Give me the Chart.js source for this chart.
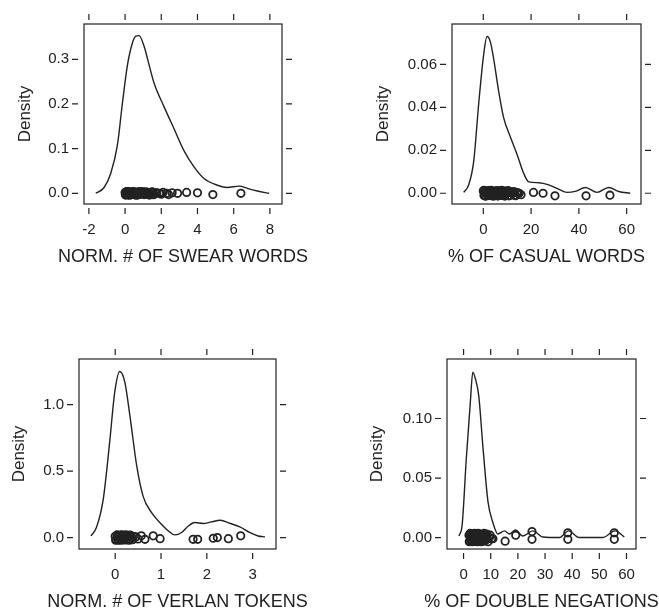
<!DOCTYPE html>
<html>
<head>
<meta charset="utf-8">
<title>Density plots</title>
<script src="https://cdn.jsdelivr.net/npm/chart.js@4.4.1/dist/chart.umd.min.js"></script>
<style>
body { margin: 0; background: #fff; }
#wrap { position: relative; width: 659px; height: 611px; overflow: hidden; background: #fff; }
canvas { position: absolute; }
</style>
</head>
<body>
<div id="wrap">
  <canvas id="swear" width="330" height="305" style="left:0;top:0"></canvas>
  <canvas id="casual" width="329" height="305" style="left:330px;top:0"></canvas>
  <canvas id="verlan" width="330" height="306" style="left:0;top:305px"></canvas>
  <canvas id="negation" width="329" height="306" style="left:330px;top:305px"></canvas>
</div>
<script>
// --- swear words ---
var swearX = [-1.62, -1.16, -0.79, -0.42, -0.15, 0.13, 0.40, 0.59, 0.77, 1.05, 1.33, 1.60, 2.15, 2.71, 3.26, 3.81, 4.36, 5.10, 5.65, 6.30, 6.76, 7.31, 7.96];
var swearDensity = [0.0, 0.013, 0.045, 0.109, 0.201, 0.287, 0.336, 0.352, 0.353, 0.329, 0.287, 0.247, 0.194, 0.144, 0.095, 0.059, 0.033, 0.018, 0.013, 0.016, 0.011, 0.005, 0.0];
var swearRug = [0.0, 0.02, 0.05, 0.08, 0.1, 0.12, 0.15, 0.18, 0.2, 0.22, 0.25, 0.3, 0.33, 0.36, 0.4, 0.42, 0.45, 0.5, 0.55, 0.58, 0.6, 0.65, 0.7, 0.72, 0.76, 0.8, 0.85, 0.9, 0.95, 1.0, 1.05, 1.1, 1.2, 1.25, 1.3, 1.4, 1.5, 1.6, 1.75, 1.9, 2.0, 2.1, 2.3, 2.4, 2.6, 2.9, 3.4, 4.0, 4.85, 6.4,
  0.03, 0.07, 0.11, 0.14, 0.17, 0.24, 0.28, 0.35, 0.38, 0.47, 0.52, 0.62, 0.68, 0.74, 0.83, 0.88, 0.98, 1.15, 1.35, 1.45, 1.55, 1.7];
var swearJitter = [0.002, -0.003, 0.001, -0.002, 0.003, -0.001, 0.002, -0.004, 0.0, 0.003, -0.002, 0.001, -0.003, 0.002, 0.0, -0.001, 0.003, -0.002, 0.001, -0.004, 0.002, 0.0, -0.003, 0.001, 0.003, -0.002, 0.002, -0.001, 0.0, 0.003, -0.003, 0.001, -0.002, 0.002, 0.0, -0.001, 0.003, -0.003, 0.001, 0.0, -0.002, 0.002, 0.0, -0.003, 0.001, 0.0, 0.002, 0.001, -0.003, 0.0,
  -0.004, 0.003, -0.001, 0.004, -0.003, 0.002, -0.004, 0.003, -0.002, 0.004, -0.003, 0.001, -0.004, 0.003, -0.002, 0.004, -0.001, 0.003, -0.004, 0.002, -0.003, 0.001];
var swearXTicks = [-2, 0, 2, 4, 6, 8];
var swearYTicks = [0, 0.1, 0.2, 0.3];

// --- casual words ---
var casualX = [-8.2, -6.1, -4.0, -1.9, 0.2, 1.55, 2.9, 4.35, 6.4, 8.5, 11.3, 14.1, 16.9, 19.0, 23.2, 27.4, 31.5, 35.0, 38.5, 42.7, 47.6, 52.5, 56.7, 61.5];
var casualDensity = [0.0004, 0.004, 0.015, 0.042, 0.065, 0.073, 0.0707, 0.0625, 0.0477, 0.0352, 0.0263, 0.0182, 0.0093, 0.0053, 0.0049, 0.0039, 0.0019, 0.0004, 0.0009, 0.0027, 0.0004, 0.0027, 0.0008, 0.0];
var casualRug = [0, 0.3, 0.6, 1, 1.3, 1.6, 2, 2.3, 2.7, 3, 3.4, 3.8, 4.2, 4.6, 5, 5.5, 6, 6.4, 6.9, 7.3, 7.8, 8.3, 8.8, 9.3, 9.8, 10.4, 11, 11.5, 12.2, 12.8, 13.5, 14.2, 15, 15.8, 21, 25, 30, 43, 53,
  0.2, 0.8, 1.1, 1.8, 2.1, 2.5, 3.2, 3.6, 4.0, 4.4, 4.8, 5.2, 5.8, 6.2, 6.6, 7.1, 7.6, 8.0, 8.6, 9.0, 10.0, 10.8, 11.8, 13.0, 14.6];
var casualJitter = [0.001, -0.001, 0.0005, -0.0012, 0.0008, 0, -0.0008, 0.0012, -0.0004, 0.0006, -0.001, 0.0003, 0.001, -0.0006, 0, 0.0009, -0.0012, 0.0004, -0.0003, 0.0011, -0.0009, 0.0002, 0.0007, -0.0005, 0, 0.0012, -0.001, 0.0005, -0.0002, 0.0008, -0.0011, 0.0003, 0, -0.0007, 0.0004, 0, -0.0012, -0.0012, -0.0009,
  0.0013, -0.0013, 0.0009, -0.0011, 0.0012, -0.0009, 0.0013, -0.0012, 0.0006, -0.0013, 0.001, -0.0008, 0.0012, -0.0012, 0.0008, -0.001, 0.0013, -0.0006, 0.0011, -0.0013, 0.0009, -0.0012, 0.0005, -0.0009, 0.0];
var casualXTicks = [0, 20, 40, 60];
var casualYTicks = [0, 0.02, 0.04, 0.06];

// --- verlan tokens ---
var verlanX = [-0.53, -0.41, -0.26, -0.12, -0.01, 0.10, 0.21, 0.32, 0.47, 0.61, 0.79, 1.01, 1.16, 1.30, 1.45, 1.59, 1.74, 1.92, 2.10, 2.29, 2.50, 2.72, 2.94, 3.12, 3.27];
var verlanDensity = [0.012, 0.076, 0.29, 0.72, 1.095, 1.25, 1.17, 0.92, 0.54, 0.31, 0.19, 0.10, 0.05, 0.02, 0.038, 0.085, 0.113, 0.106, 0.118, 0.13, 0.108, 0.08, 0.038, 0.012, 0.005];
var verlanRug = [0, 0.02, 0.05, 0.07, 0.1, 0.12, 0.15, 0.18, 0.2, 0.22, 0.25, 0.27, 0.3, 0.33, 0.36, 0.4, 0.45, 0.5, 0.57, 0.65, 0.83, 0.98, 1.7, 1.8, 2.14, 2.23, 2.47, 2.74,
  0.01, 0.04, 0.08, 0.11, 0.13, 0.16, 0.19, 0.23, 0.26, 0.29, 0.31, 0.35, 0.38];
var verlanJitter = [0.01, -0.015, 0.005, -0.02, 0.015, -0.005, 0.02, -0.01, 0, 0.012, -0.018, 0.008, -0.012, 0.018, -0.004, 0.01, 0.005, -0.01, 0.013, -0.013, 0.013, -0.008, -0.013, -0.013, -0.005, 0, -0.008, 0.013,
  -0.02, 0.02, -0.015, 0.018, -0.02, 0.015, -0.018, 0.02, -0.012, 0.016, -0.02, 0.012, -0.016];
var verlanXTicks = [0, 1, 2, 3];
var verlanYTicks = [0, 0.5, 1.0];

// --- double negations ---
var negX = [-1.7, -0.5, 1.0, 2.5, 3.4, 4.4, 5.6, 7.1, 9.0, 10.8, 12.6, 15.1, 16.9, 19.1, 21.8, 25.5, 29.2, 35.3, 38.7, 42.6, 51.2, 55.8, 59.2];
var negDensity = [0.0013, 0.011, 0.066, 0.114, 0.139, 0.133, 0.119, 0.077, 0.030, 0.0126, 0.003, 0.0056, 0.003, 0.0064, 0.0013, 0.0056, 0.0005, 0.0, 0.0056, 0.0, 0.0, 0.0056, 0.0005];
var negRug = [2, 2.3, 2.6, 3, 3.2, 3.5, 3.8, 4, 4.3, 4.6, 5, 5.3, 5.6, 6, 6.3, 6.7, 7, 7.4, 7.8, 8.3, 8.8, 9.5, 10.3, 15.3, 19.2, 25.2, 25.2, 38.4, 38.4, 55.5, 55.5,
  2.1, 2.4, 2.8, 3.1, 3.3, 3.6, 3.9, 4.1, 4.4, 4.8, 5.1, 5.4, 5.8, 6.1, 6.5, 6.9, 7.2, 7.6, 8.0, 8.5, 9.0, 9.8, 10.8];
var negJitter = [0.002, -0.003, 0.001, -0.002, 0.003, 0, -0.001, 0.002, -0.003, 0.001, 0.003, -0.002, 0, 0.002, -0.003, 0.001, -0.001, 0.003, -0.002, 0.001, -0.001, 0, -0.001, -0.003, 0.002, 0.005, -0.0015, 0.004, -0.0015, 0.004, -0.0015,
  -0.0035, 0.0035, -0.0025, 0.003, -0.0035, 0.0025, -0.003, 0.0035, -0.002, 0.003, -0.0035, 0.0035, -0.0025, 0.003, -0.0035, 0.002, -0.003, 0.0035, -0.0025, 0.003, -0.0035, 0.002, -0.001];
var negXTicks = [0, 10, 20, 30, 40, 50, 60];
var negYTicks = [0, 0.05, 0.10];

var FONT = "'Liberation Sans', Arial, sans-serif";
var INK = '#222';

// box + detached lattice-style ticks + axis titles
var framePlugin = {
  id: 'frame',
  afterDraw: function (chart, args, opts) {
    var ctx = chart.ctx, a = chart.chartArea;
    var xs = chart.scales.x, ys = chart.scales.y;
    ctx.save();
    ctx.strokeStyle = INK;
    ctx.lineWidth = 1.2;
    ctx.strokeRect(a.left, a.top, a.right - a.left, a.bottom - a.top);
    ctx.beginPath();
    xs.ticks.forEach(function (t) {
      var px = xs.getPixelForValue(t.value);
      ctx.moveTo(px, a.top - 4); ctx.lineTo(px, a.top - 10);
      ctx.moveTo(px, a.bottom + 4); ctx.lineTo(px, a.bottom + 10);
    });
    ys.ticks.forEach(function (t) {
      var py = ys.getPixelForValue(t.value);
      ctx.moveTo(a.left - 6, py); ctx.lineTo(a.left - 12, py);
      ctx.moveTo(a.right + 4, py); ctx.lineTo(a.right + 10, py);
    });
    ctx.stroke();
    ctx.fillStyle = INK;
    ctx.font = '18px ' + FONT;
    ctx.textAlign = 'center';
    ctx.textBaseline = 'middle';
    ctx.fillText(opts.xTitle, (a.left + a.right) / 2, a.bottom + 53);
    ctx.font = '17px ' + FONT;
    ctx.translate(a.left - opts.yTitleGap, (a.top + a.bottom) / 2);
    ctx.rotate(-Math.PI / 2);
    ctx.fillText('Density', 0, 0);
    ctx.restore();
  }
};

function makePanel(id, p) {
  var curve = p.xs.map(function (x, i) { return { x: x, y: p.dens[i] }; });
  var rug = p.rug.map(function (x, i) { return { x: x, y: p.jitter[i] || 0 }; });
  var canvas = document.getElementById(id);
  return new Chart(canvas.getContext('2d'), {
    type: 'scatter',
    data: {
      datasets: [{
        data: rug,
        pointStyle: 'circle',
        pointRadius: 3.7,
        borderWidth: 1.8,
        borderColor: INK,
        backgroundColor: 'rgba(0,0,0,0)'
      }, {
        data: curve,
        showLine: true,
        pointRadius: 0,
        borderColor: INK,
        borderWidth: 1.4,
        cubicInterpolationMode: 'monotone'
      }]
    },
    options: {
      responsive: false,
      animation: false,
      events: [],
      layout: { padding: { left: 0, top: p.box.t, right: canvas.width - p.box.r, bottom: 0 } },
      plugins: {
        legend: { display: false },
        tooltip: { enabled: false },
        frame: { xTitle: p.xTitle, yTitleGap: p.yTitleGap }
      },
      scales: {
        x: {
          type: 'linear',
          min: p.xlim[0], max: p.xlim[1],
          grid: { display: false, drawTicks: false },
          border: { display: false },
          afterBuildTicks: function (s) { s.ticks = p.xTicks.map(function (v) { return { value: v }; }); },
          afterFit: function (s) { s.height = canvas.height - p.box.b; },
          ticks: { autoSkip: false, maxRotation: 0, padding: 17, color: INK, font: { family: FONT, size: 15 } }
        },
        y: {
          type: 'linear',
          min: p.ylim[0], max: p.ylim[1],
          grid: { display: false, drawTicks: false },
          border: { display: false },
          afterBuildTicks: function (s) { s.ticks = p.yTicks.map(function (v) { return { value: v }; }); },
          afterFit: function (s) { s.width = p.box.l; },
          ticks: {
            padding: 15, color: INK, font: { family: FONT, size: 15 },
            callback: function (v) { return v.toFixed(p.digits); }
          }
        }
      }
    },
    plugins: [framePlugin]
  });
}

makePanel('swear', {
  xs: swearX, dens: swearDensity, rug: swearRug, jitter: swearJitter,
  xTicks: swearXTicks, yTicks: swearYTicks, digits: 1,
  xlim: [-2.27, 8.67], ylim: [-0.024, 0.379],
  box: { l: 84, t: 15, r: 282, b: 204 },
  xTitle: 'NORM. # OF SWEAR WORDS', yTitleGap: 59
});

makePanel('casual', {
  xs: casualX, dens: casualDensity, rug: casualRug, jitter: casualJitter,
  xTicks: casualXTicks, yTicks: casualYTicks, digits: 2,
  xlim: [-13.1, 66.0], ylim: [-0.005, 0.0788],
  box: { l: 122, t: 15, r: 311, b: 204 },
  xTitle: '% OF CASUAL WORDS', yTitleGap: 69
});

makePanel('verlan', {
  xs: verlanX, dens: verlanDensity, rug: verlanRug, jitter: verlanJitter,
  xTicks: verlanXTicks, yTicks: verlanYTicks, digits: 1,
  xlim: [-0.79, 3.51], ylim: [-0.086, 1.344],
  box: { l: 79, t: 54, r: 276, b: 244 },
  xTitle: 'NORM. # OF VERLAN TOKENS', yTitleGap: 60
});

makePanel('negation', {
  xs: negX, dens: negDensity, rug: negRug, jitter: negJitter,
  xTicks: negXTicks, yTicks: negYTicks, digits: 2,
  xlim: [-6.1, 63.5], ylim: [-0.0096, 0.150],
  box: { l: 117, t: 54, r: 306, b: 244 },
  xTitle: '% OF DOUBLE NEGATIONS', yTitleGap: 70
});
</script>
</body>
</html>
